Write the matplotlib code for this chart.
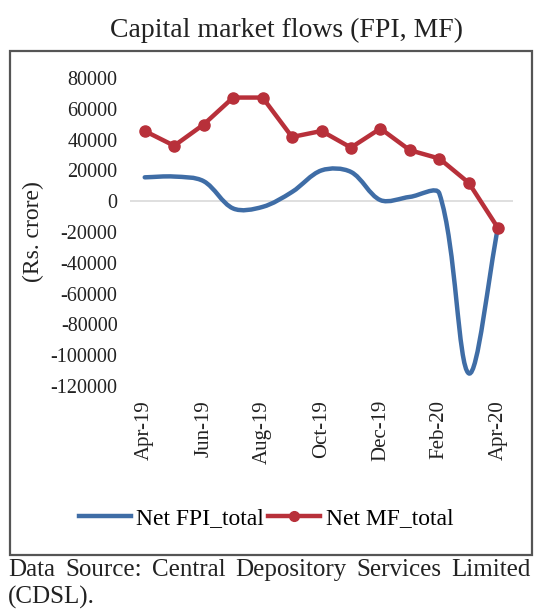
import matplotlib.pyplot as plt
import numpy as np
from matplotlib.path import Path
from matplotlib.patches import PathPatch, Rectangle
from matplotlib.lines import Line2D

plt.rcParams['font.family'] = ['Liberation Serif', 'DejaVu Serif']

# monthly net flows, Rs. crore
months = ['Apr-19', 'May-19', 'Jun-19', 'Jul-19', 'Aug-19', 'Sep-19', 'Oct-19',
          'Nov-19', 'Dec-19', 'Jan-20', 'Feb-20', 'Mar-20', 'Apr-20']
fpi = [15500, 16000, 13000, -4700, -3700, 6000, 20000, 19000, 700, 2800, 5000,
       -111800, -16000]
mf = [45600, 36000, 49800, 67300, 67300, 41700, 45600, 34800, 47200, 33100,
      27700, 11900, -17700]
yticks = list(range(-120000, 80001, 20000))

blue = '#3f6da6'
red = '#b8303a'

fig = plt.figure(figsize=(5.34, 6.10), dpi=100)
W, H = 534, 610

# outer chart frame
fig.patches.append(Rectangle((10 / W, 1 - 555 / H), 522 / W, 504 / H,
                             transform=fig.transFigure, fill=False,
                             edgecolor='#555555', linewidth=1.6))

fig.text(286 / W, 1 - 30 / H, 'Capital market flows (FPI, MF)',
         ha='center', va='center', fontsize=20, color='#222222')

ax = fig.add_axes([130 / W, 1 - 386 / H, 383 / W, 308 / H])
x = np.arange(len(months))
ax.set_xlim(-0.5, len(months) - 0.5)
ax.set_ylim(-120000, 80000)

ax.axhline(0, color='#d9d9d9', linewidth=1.2, zorder=1)


def smooth_path(xs, ys, sx=29.4, sy=1 / 649):
    # bezier through every point; control arms scaled by segment length
    p = np.column_stack([xs, ys]).astype(float)
    scale = np.array([sx, sy])
    n = len(p)
    seg = [np.hypot(*((p[i + 1] - p[i]) * scale)) for i in range(n - 1)]
    verts = [tuple(p[0])]
    codes = [Path.MOVETO]
    for i in range(n - 1):
        a = p[i - 1] if i > 0 else p[i]
        la = seg[i - 1] if i > 0 else 0.0
        b = p[i + 2] if i + 2 < n else p[i + 1]
        lb = seg[i + 1] if i + 2 < n else 0.0
        c1 = p[i] + (p[i + 1] - a) * seg[i] / (la + seg[i]) / 3
        c2 = p[i + 1] - (b - p[i]) * seg[i] / (seg[i] + lb) / 3
        verts += [tuple(c1), tuple(c2), tuple(p[i + 1])]
        codes += [Path.CURVE4] * 3
    return Path(verts, codes)


ax.add_patch(PathPatch(smooth_path(x, fpi), facecolor='none', edgecolor=blue,
                       linewidth=3.2, capstyle='round', zorder=3))

ax.plot(x, mf, color=red, linewidth=3.2, marker='o', markersize=8,
        zorder=4)

for s in ax.spines.values():
    s.set_visible(False)
ax.set_yticks(yticks)
ax.set_yticklabels([str(v) for v in yticks], fontsize=14.5, color='#222222')
ax.set_xticks(x[::2])
ax.set_xticklabels(months[::2], rotation=90, fontsize=15, color='#222222')
ax.tick_params(axis='both', length=0)
ax.tick_params(axis='x', pad=10)
ax.tick_params(axis='y', pad=9)
ax.set_ylabel('(Rs. crore)', fontsize=17, color='#222222')
ax.yaxis.set_label_coords(-0.225, 0.503)

# legend below the plot
leg_handles = [Line2D([], [], color=blue, linewidth=3.2),
               Line2D([], [], color=red, linewidth=3.2, marker='o',
                      markersize=7)]
fig.legend(leg_handles, ['Net FPI_total', 'Net MF_total'], loc='center',
           bbox_to_anchor=(266 / W, 1 - 518 / H), ncol=2, frameon=False,
           fontsize=17, handlelength=2.2, handletextpad=0.25,
           columnspacing=0.15)

# source note, justified across the width
words = ['Data', 'Source:', 'Central', 'Depository', 'Services', 'Limited']
texts = [fig.text(0, 1 - 570 / H, w, ha='left', va='center', fontsize=18,
                  color='#222222') for w in words]
renderer = fig.canvas.get_renderer()
widths = [t.get_window_extent(renderer).width for t in texts]
left, right = 8, 531
gap = (right - left - sum(widths)) / (len(words) - 1)
pos = left
for t, w in zip(texts, widths):
    t.set_x(pos / W)
    pos += w + gap
fig.text(8 / W, 1 - 597 / H, '(CDSL).', ha='left', va='center',
         fontsize=18, color='#222222')

fig.savefig('out.png', dpi=100)
